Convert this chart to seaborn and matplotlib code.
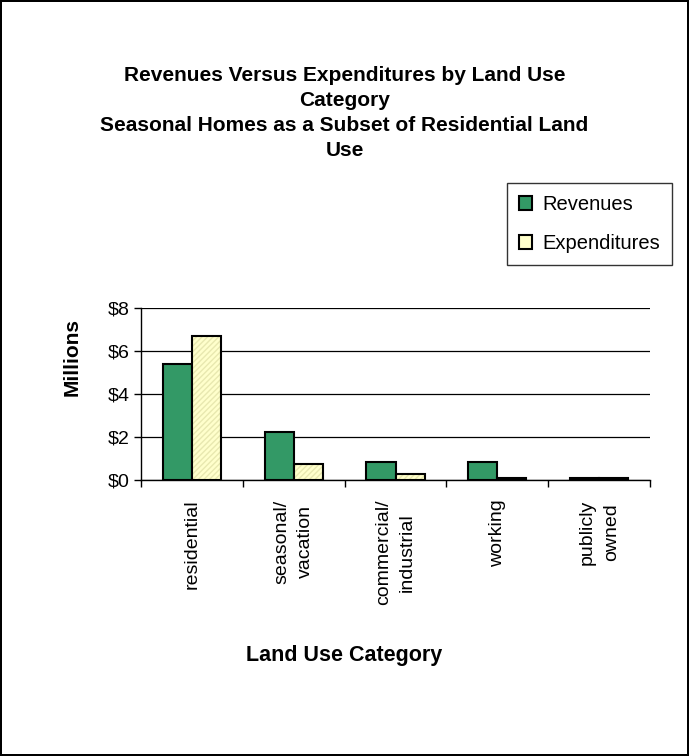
import matplotlib
matplotlib.use("Agg")
import matplotlib.pyplot as plt
import numpy as np
import pandas as pd
import seaborn as sns
from matplotlib.colors import to_rgba
from matplotlib.patches import Patch
from matplotlib.ticker import FixedLocator, FuncFormatter

categories = ["residential", "seasonal/\nvacation", "commercial/\nindustrial", "working", "publicly\nowned"]
revenues = [5.4, 2.25, 0.85, 0.85, 0.1]
expenditures = [6.7, 0.75, 0.3, 0.1, 0.1]
series = ["Revenues", "Expenditures"]
title_lines = [
    "Revenues Versus Expenditures by Land Use",
    "Category",
    "Seasonal Homes as a Subset of Residential Land",
    "Use",
]

df = pd.DataFrame({
    "category": categories * 2,
    "value": revenues + expenditures,
    "series": [series[0]] * len(categories) + [series[1]] * len(categories),
})

sns.set_style("white")
plt.rcParams["font.family"] = ["Liberation Sans", "DejaVu Sans"]
plt.rcParams["text.color"] = "black"
plt.rcParams["xtick.color"] = "black"
plt.rcParams["ytick.color"] = "black"
plt.rcParams["axes.labelcolor"] = "black"

GREEN = "#339966"
YELLOW = "#ffffcc"

fig = plt.figure(figsize=(6.89, 7.56), dpi=100, edgecolor="black", linewidth=1.5)
ax = fig.add_axes([141 / 689, 1 - 480 / 756, 509 / 689, 172 / 756])

sns.barplot(
    data=df, x="category", y="value", hue="series", order=categories,
    palette=[GREEN, YELLOW], width=0.57, edgecolor="black", linewidth=1.5,
    saturation=1, legend=False, ax=ax,
)

# light diagonal hatch on the expenditures bars
for container, s in zip(ax.containers, series):
    if s == "Expenditures":
        for p in container:
            p.set_hatch("//////")
            p._hatch_color = to_rgba("#e8e8b0")

ax.set_ylim(0, 8)
ax.set_xlim(-0.5, len(categories) - 0.5)
ax.set_yticks([0, 2, 4, 6, 8])
ax.yaxis.set_major_formatter(FuncFormatter(lambda v, _: f"${v:.0f}"))
ax.yaxis.grid(True, color="black", linewidth=0.9)
ax.set_axisbelow(True)

# tick marks sit between the groups, labels at the group centres
ax.xaxis.set_minor_locator(FixedLocator(np.arange(-0.5, len(categories), 1.0)))
ax.tick_params(axis="x", which="major", length=0, pad=14, labelsize=14)
ax.tick_params(axis="x", which="minor", length=5, width=1, color="black", direction="out", bottom=True)
ax.tick_params(axis="y", length=5, width=1, color="black", direction="out", left=True, labelsize=14, pad=3)
for lab in ax.get_xticklabels():
    lab.set_rotation(90)
    lab.set_va("top")
    lab.set_ha("center")
    lab.set_multialignment("center")
    lab.set_linespacing(1.55)

for side in ["top", "right"]:
    ax.spines[side].set_visible(False)
for side in ["left", "bottom"]:
    ax.spines[side].set_color("black")
    ax.spines[side].set_linewidth(1)

ax.set_xlabel("")
ax.set_ylabel("")

fig.text(0.5, 1 - 66 / 756, "\n".join(title_lines), ha="center", va="top",
         fontsize=15, fontweight="bold", linespacing=1.4)
fig.text(72 / 689, 1 - 357 / 756, "Millions", rotation=90, ha="center", va="center",
         fontsize=15, fontweight="bold")
fig.text(344 / 689, 1 - 655 / 756, "Land Use Category", ha="center", va="center",
         fontsize=15.5, fontweight="bold")

handles = [
    Patch(facecolor=GREEN, edgecolor="black", linewidth=1.5),
    Patch(facecolor=YELLOW, edgecolor="black", linewidth=1.5),
]
leg = fig.legend(
    handles, series, loc="upper right", bbox_to_anchor=(672 / 689, 1 - 183 / 756),
    fontsize=14.5, frameon=True, fancybox=False, handlelength=0.65, handleheight=0.65,
    handletextpad=0.5, borderpad=0.6, labelspacing=1.0, borderaxespad=0,
)
leg.get_frame().set_edgecolor("black")
leg.get_frame().set_linewidth(1)

fig.savefig("out.png", dpi=100, edgecolor=fig.get_edgecolor())
